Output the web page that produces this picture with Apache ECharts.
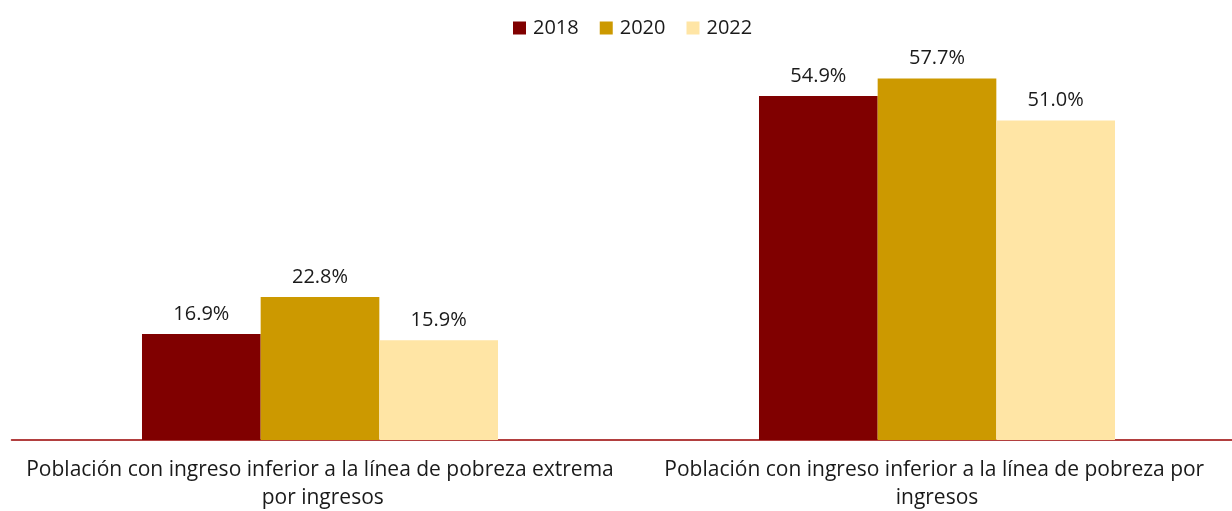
<!DOCTYPE html>
<html>
<head>
<meta charset="utf-8">
<script src="https://cdn.jsdelivr.net/npm/echarts@6/dist/echarts.min.js"></script>
<style>html,body{margin:0;padding:0;background:#fff}#c{width:1232px;height:511px}</style>
</head>
<body>
<div id="c"></div>
<script>
const categories = [
  "Población con ingreso inferior a la línea de pobreza extrema por ingresos",
  "Población con ingreso inferior a la línea de pobreza por ingresos"
];
const years = ["2018", "2020", "2022"];
const values2018 = [16.9, 54.9];
const values2020 = [22.8, 57.7];
const values2022 = [15.9, 51.0];
const colors = ["#800000", "#CC9900", "#FFE5A5"];
const FONT = "Open Sans";

const chart = echarts.init(document.getElementById('c'), null, {renderer: 'canvas'});
const seriesData = [values2018, values2020, values2022];
chart.setOption({
  animation: false,
  textStyle: {fontFamily: FONT},
  legend: {
    top: 13, left: 508,
    itemWidth: 13, itemHeight: 13, itemGap: 21,
    icon: 'rect',
    textStyle: {fontSize: 20, color: '#1a1a1a', fontFamily: FONT, padding: [0, 0, 0, 2]},
    data: years
  },
  grid: {left: 11.5, width: 1234, top: 64, height: 376, containLabel: false, outerBoundsMode: 'none'},
  xAxis: {
    type: 'category',
    data: categories,
    axisLine: {lineStyle: {color: '#990000', width: 1.5}},
    axisTick: {show: false},
    axisLabel: {
      interval: 0, margin: 16, fontSize: 21, color: '#1a1a1a', lineHeight: 28,
      width: 612, overflow: 'break', fontFamily: FONT, hideOverlap: false
    }
  },
  yAxis: {type: 'value', min: 0, max: 60, show: false, splitLine: {show: false}},
  series: years.map((y, i) => ({
    name: y, type: 'bar', data: seriesData[i],
    barGap: '0%', barCategoryGap: '42.3%',
    itemStyle: {color: colors[i]},
    label: {show: true, position: 'top', distance: 10, fontSize: 20, color: '#1a1a1a',
      fontFamily: FONT, formatter: p => p.value.toFixed(1) + '%'}
  }))
});
</script>
</body>
</html>
